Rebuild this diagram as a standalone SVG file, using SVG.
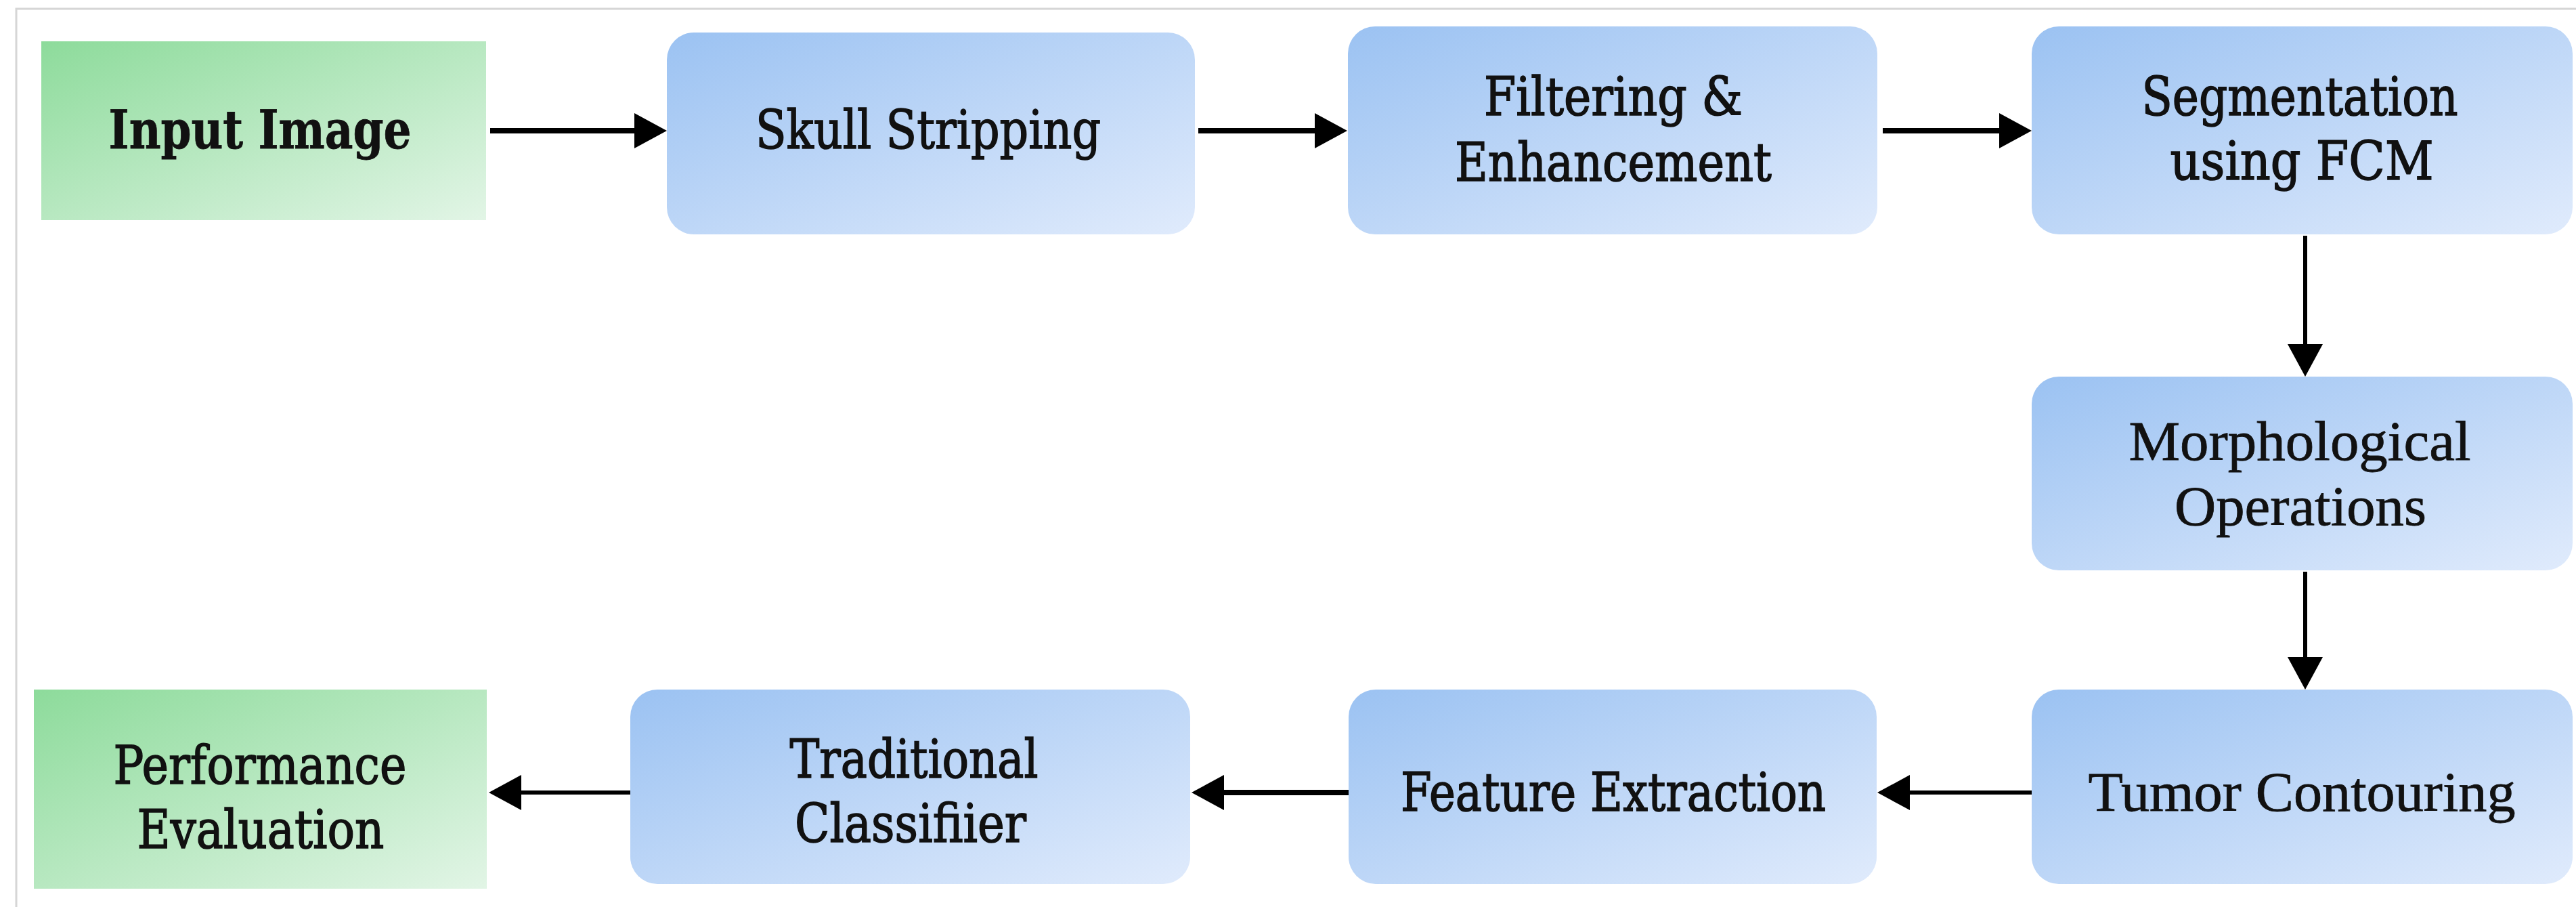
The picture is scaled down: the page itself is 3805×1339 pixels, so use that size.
<svg xmlns="http://www.w3.org/2000/svg" width="3805" height="1339" viewBox="0 0 3805 1339">
  <defs>
    <linearGradient id="gBlue" x1="0" y1="0" x2="1" y2="1">
      <stop offset="0" stop-color="#9bc2f2"/>
      <stop offset="1" stop-color="#e0ebfc"/>
    </linearGradient>
    <linearGradient id="gGreen" x1="0" y1="0" x2="1" y2="1">
      <stop offset="0" stop-color="#8ddb9b"/>
      <stop offset="1" stop-color="#e2f5e6"/>
    </linearGradient>
    <marker id="ah" markerUnits="userSpaceOnUse" markerWidth="50" markerHeight="54" refX="8" refY="26" orient="auto">
      <path d="M0,0 L48,26 L0,52 z" fill="#000"/>
    </marker>
    <style>
      .blue { fill: url(#gBlue); }
      .green { fill: url(#gGreen); }
      .slab { font-family: "DejaVu Serif", "Liberation Serif", serif; font-size: 78px; fill: #111; stroke: #111; stroke-width: 1.6; text-anchor: middle; }
      .bold { font-weight: bold; stroke-width: 0.8; }
      .serif { font-family: "Liberation Serif", "DejaVu Serif", serif; font-size: 82px; fill: #111; stroke: #111; stroke-width: 0.8; text-anchor: middle; }
      .conn { stroke: #000; stroke-width: 8; fill: none; marker-end: url(#ah); }
      .thin { stroke-width: 6; }
      .frame { stroke: #d6d6d6; stroke-width: 3; fill: none; }
    </style>
  </defs>
  <rect x="0" y="0" width="3805" height="1339" fill="#fff"/>
  <path class="frame" d="M24,1339 L24,13 L3805,13"/>

  <g id="input-image">
    <rect class="green" x="61" y="61" width="657" height="264"/>
    <text class="slab bold" x="384" y="219" textLength="447" lengthAdjust="spacingAndGlyphs">Input Image</text>
  </g>
  <g id="skull-stripping">
    <rect class="blue" x="985" y="48" width="780" height="298" rx="40"/>
    <text class="slab" x="1371" y="219" textLength="510" lengthAdjust="spacingAndGlyphs">Skull Stripping</text>
  </g>
  <g id="filtering-enhancement">
    <rect class="blue" x="1991" y="39" width="782" height="307" rx="40"/>
    <text class="slab" x="2383" y="170" textLength="382" lengthAdjust="spacingAndGlyphs">Filtering &amp;</text>
    <text class="slab" x="2383" y="267" textLength="468" lengthAdjust="spacingAndGlyphs">Enhancement</text>
  </g>
  <g id="segmentation">
    <rect class="blue" x="3001" y="39" width="799" height="307" rx="40"/>
    <text class="slab" x="3397" y="170" textLength="467" lengthAdjust="spacingAndGlyphs">Segmentation</text>
    <text class="slab" x="3400" y="265" textLength="389" lengthAdjust="spacingAndGlyphs">using FCM</text>
  </g>
  <g id="morphological-operations">
    <rect class="blue" x="3001" y="556" width="799" height="286" rx="40"/>
    <text class="serif" x="3397" y="679" textLength="505" lengthAdjust="spacingAndGlyphs">Morphological</text>
    <text class="serif" x="3398" y="775" textLength="372" lengthAdjust="spacingAndGlyphs">Operations</text>
  </g>
  <g id="tumor-contouring">
    <rect class="blue" x="3001" y="1018" width="799" height="287" rx="40"/>
    <text class="serif" x="3400" y="1197" textLength="631" lengthAdjust="spacingAndGlyphs">Tumor Contouring</text>
  </g>
  <g id="feature-extraction">
    <rect class="blue" x="1992" y="1018" width="780" height="287" rx="40"/>
    <text class="slab" x="2383" y="1197" textLength="628" lengthAdjust="spacingAndGlyphs">Feature Extraction</text>
  </g>
  <g id="traditional-classifier">
    <rect class="blue" x="931" y="1018" width="827" height="287" rx="40"/>
    <text class="slab" x="1350" y="1148" textLength="367" lengthAdjust="spacingAndGlyphs">Traditional</text>
    <text class="slab" x="1345" y="1243" textLength="342" lengthAdjust="spacingAndGlyphs">Classifiier</text>
  </g>
  <g id="performance-evaluation">
    <rect class="green" x="50" y="1018" width="669" height="294"/>
    <text class="slab" x="384" y="1157" textLength="433" lengthAdjust="spacingAndGlyphs">Performance</text>
    <text class="slab" x="385" y="1252" textLength="365" lengthAdjust="spacingAndGlyphs">Evaluation</text>
  </g>

  <g id="connectors">
    <line class="conn" x1="724" y1="193" x2="945" y2="193"/>
    <line class="conn" x1="1770" y1="193" x2="1950" y2="193"/>
    <line class="conn" x1="2781" y1="193" x2="2961" y2="193"/>
    <line class="conn thin" x1="3405" y1="348" x2="3405" y2="516"/>
    <line class="conn thin" x1="3405" y1="844" x2="3405" y2="978"/>
    <line class="conn thin" x1="3001" y1="1170" x2="2813" y2="1170"/>
    <line class="conn" x1="1992" y1="1170" x2="1800" y2="1170"/>
    <line class="conn thin" x1="931" y1="1170" x2="762" y2="1170"/>
  </g>
</svg>
